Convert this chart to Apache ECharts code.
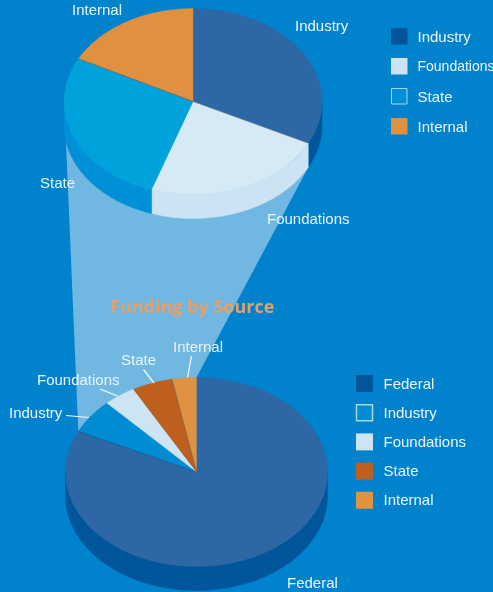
<!DOCTYPE html>
<html>
<head>
<meta charset="utf-8">
<style>html,body{margin:0;padding:0;background:#0082CD;overflow:hidden}#c{width:493px;height:592px}</style>
<script src="https://cdn.jsdelivr.net/npm/echarts@6/dist/echarts.min.js"></script>
</head>
<body>
<div id="c"></div>
<script>
// Data (percent of each pie)
const detailCategories = ['Industry', 'Foundations', 'State', 'Internal'];
const detailValues = [32.4, 22.8, 27.4, 17.4];
const overviewCategories = ['Federal', 'Industry', 'Foundations', 'State', 'Internal'];
const overviewValues = [82.1, 5.9, 4.0, 5.0, 3.0];
const titleText = 'Funding by Source';

// Styles
const BG = '#0082CD', TXT = '#EAF5FB', BEAM = '#70B7E2', TITLE = '#E5A06A';
const detailTop = ['#2E67A5', '#D5EAF5', '#00A2DC', '#E09040'];
const detailSide = ['#00559B', '#CBE3F2', '#0090D8', '#E09040'];
const detailSwatch = ['#00559B', '#CBE3F2', '#0090D8', '#E09040'];
const detailSeams = [true, false, true, false];
const overviewTop = ['#2E67A5', '#008CD2', '#CDE4F2', '#BE5F1E', '#E09243'];
const overviewSide = ['#00559B', '#008CD2', '#CDE4F2', '#BE5F1E', '#E09243'];
const overviewSwatch = ['#00559B', '#008CD2', '#CDE4F2', '#BE5F1E', '#E09243'];
const overviewSeams = [true, false, false, true, false];

// Pie geometry (ellipse = tilted disc)
const detailPie = {cx: 193, cy: 101.5, rx: 129, ry: 93, depth: 24};
const overviewPie = {cx: 196.5, cy: 472, rx: 131, ry: 94.5, depth: 24};

function pt(g, deg, dy) {
  const a = deg * Math.PI / 180;
  return [g.cx + g.rx * Math.sin(a), g.cy - g.ry * Math.cos(a) + (dy || 0)];
}
function arc(g, a, b, dy) {
  const out = [], n = Math.max(2, Math.ceil(Math.abs(b - a)));
  for (let i = 0; i <= n; i++) out.push(pt(g, a + (b - a) * i / n, dy));
  return out;
}
function bounds(values) {
  const sum = values.reduce((s, v) => s + v, 0);
  let acc = 0;
  return values.map(v => { const a = acc / sum * 360; acc += v; return [a, acc / sum * 360]; });
}
function pieSeries(name, cats, values, g, topCols, sideCols, seams) {
  const bs = bounds(values);
  return {
    type: 'custom', name, coordinateSystem: 'none', silent: true, z: 2,
    data: values.map((v, i) => ({name: cats[i], value: [v]})),
    renderItem(params) {
      const i = params.dataIndex, a = bs[i][0], b = bs[i][1];
      const children = [];
      const s = Math.max(a, 90), e = Math.min(b, 270);
      if (e > s) {
        const upper = arc(g, s, e, 0), lower = arc(g, e, s, g.depth);
        children.push({type: 'polygon', shape: {points: upper.concat(lower)},
          style: {fill: sideCols[i], stroke: sideCols[i], lineWidth: 0.4}});
      }
      const top = [[g.cx, g.cy]].concat(arc(g, a, b, 0));
      children.push({type: 'polygon', shape: {points: top},
        style: {fill: topCols[i], stroke: topCols[i], lineWidth: 0.3}});
      if (seams[i]) {
        children.push({type: 'polyline', z2: 5, shape: {points: [[g.cx, g.cy], pt(g, b, 0)]},
          style: {fill: 'none', stroke: 'rgba(30,45,75,0.55)', lineWidth: 0.6}});
      }
      return {type: 'group', children};
    }
  };
}

const bsD = bounds(detailValues), bsO = bounds(overviewValues);
// Connector between the pies: from the detail pie's rim to the first overview slice boundaries
const beamPoints = [
  pt(detailPie, 260, detailPie.depth),
  pt(detailPie, bsD[0][1], detailPie.depth),
  pt(overviewPie, 0),
  pt(overviewPie, bsO[0][1])
];

const gfx = [{type: 'polygon', z: 0, shape: {points: beamPoints}, style: {fill: BEAM}}];
function label(text, x, y, size) {
  gfx.push({type: 'text', z: 100, x, y, style: {text, fill: TXT, font: (size || 15) + 'px "Liberation Sans", Arial, sans-serif',
    textAlign: 'left', textVerticalAlign: 'middle'}});
}
function leader(x1, y1, x2, y2) {
  gfx.push({type: 'line', z: 100, shape: {x1, y1, x2, y2}, style: {stroke: '#F2F9FD', lineWidth: 1.25}});
}
function swatch(x, y, size, fill, outlined, lw) {
  gfx.push({type: 'rect', z: 100, shape: outlined ? {x: x + .5, y: y + .5, width: size - 1, height: size - 1} : {x, y, width: size, height: size},
    style: outlined ? {fill, stroke: '#A9D4EE', lineWidth: lw} : {fill}});
}
// Slice labels
label(detailCategories[3], 72, 10.5);
label(detailCategories[0], 295, 26.5);
label(detailCategories[2], 40, 183.5);
label(detailCategories[1], 267, 219.5);
label(overviewCategories[1], 9, 413.5);
label(overviewCategories[2], 37, 380.5);
label(overviewCategories[3], 121, 360.5);
label(overviewCategories[4], 173, 347.5);
label(overviewCategories[0], 287, 583.5);
leader(66, 415.5, 89, 417.5);
leader(100, 389, 117.5, 396);
leader(143.5, 369.5, 154, 383);
leader(191.5, 356, 187.5, 377.5);
// Legends
detailCategories.forEach((c, i) => {
  const y = 28 + i * 30;
  swatch(391, y, 16.5, detailSwatch[i], c === 'State', 1);
  label(c, 417.5, y + 9.5, c === 'Foundations' ? 14 : 15);
});
overviewCategories.forEach((c, i) => {
  const y = 375 + i * 29.2;
  swatch(356, y, 17, overviewSwatch[i], c === 'Industry', 1.5);
  label(c, 383.5, y + 9.5);
});

const chart = echarts.init(document.getElementById('c'), null, {renderer: 'canvas', width: 493, height: 592});
chart.setOption({
  backgroundColor: BG,
  animation: false,
  title: {text: titleText, left: 110, top: 299, padding: 0,
    textStyle: {color: TITLE, fontFamily: '"Open Sans"', fontWeight: 'bold', fontSize: 18}},
  graphic: {elements: gfx},
  series: [
    pieSeries('Detail', detailCategories, detailValues, detailPie, detailTop, detailSide, detailSeams),
    pieSeries('Overview', overviewCategories, overviewValues, overviewPie, overviewTop, overviewSide, overviewSeams)
  ]
});
</script>
</body>
</html>
